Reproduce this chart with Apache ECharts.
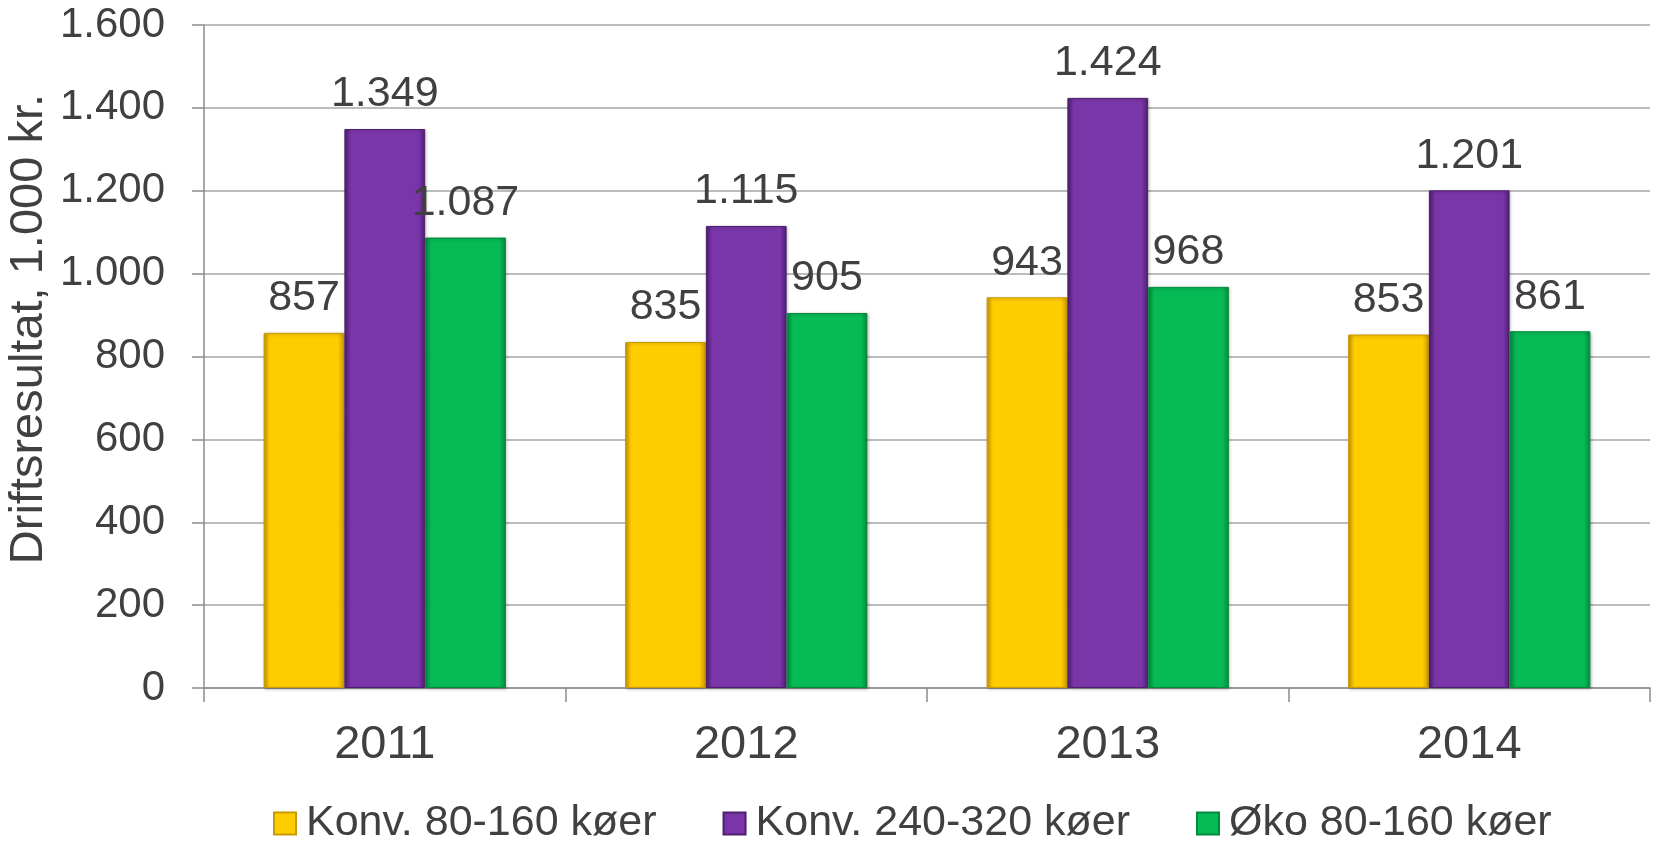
<!DOCTYPE html>
<html>
<head>
<meta charset="utf-8">
<script src="https://cdn.jsdelivr.net/npm/echarts@6/dist/echarts.min.js"></script>
<style>
  html, body { margin: 0; padding: 0; background: #fff; }
  #main { width: 1656px; height: 842px; }
</style>
</head>
<body>
<div id="main"></div>
<script>
var years = ['2011', '2012', '2013', '2014'];
var konvSmall = [857, 835, 943, 853];
var konvLarge = [1349, 1115, 1424, 1201];
var oko = [1087, 905, 968, 861];
var seriesNames = ['Konv. 80-160 køer', 'Konv. 240-320 køer', 'Øko 80-160 køer'];
var colors = ['#FFCC00', '#7A35A8', '#06BA55'];
var edgeColors = ['#C99A00', '#4E1F70', '#038A3C'];

var font = 'Liberation Sans, Arial, sans-serif';
var textColor = '#404040';

function fmt(v) {
    return String(v).replace(/\B(?=(\d{3})+(?!\d))/g, '.');
}

var dom = document.getElementById('main');
var myChart = echarts.init(dom, null, { renderer: 'canvas' });

function makeSeries(i, data) {
    return {
        name: seriesNames[i],
        type: 'bar',
        data: data,
        barGap: '0%',
        barCategoryGap: '33%',
        itemStyle: {
            color: {
                type: 'linear', x: 0, y: 0, x2: 1, y2: 0,
                colorStops: [
                    { offset: 0, color: edgeColors[i] },
                    { offset: 0.08, color: colors[i] },
                    { offset: 0.92, color: colors[i] },
                    { offset: 1, color: edgeColors[i] }
                ]
            },
            borderColor: edgeColors[i],
            borderWidth: 1,
            shadowColor: 'rgba(0,0,0,0.25)',
            shadowBlur: 3,
            shadowOffsetX: 1,
            shadowOffsetY: 1
        },
        label: {
            show: true,
            position: 'top',
            distance: 13,
            fontFamily: font,
            fontSize: 43,
            color: textColor,
            formatter: function (p) { return fmt(p.value); }
        }
    };
}

var option = {
    animation: false,
    backgroundColor: '#fff',
    grid: { left: 204, right: 6, top: 25, bottom: 154, containLabel: false },
    legend: {
        bottom: -8,
        left: 268,
        itemWidth: 22,
        itemHeight: 22,
        itemGap: 66,
        icon: 'rect',
        textStyle: { fontFamily: font, fontSize: 43, color: textColor, padding: [0, 0, 0, 5] },
        data: seriesNames
    },
    graphic: [{
        type: 'text',
        left: 6,
        top: 94,
        rotation: Math.PI / 2,
        originX: 0, originY: 0,
        style: {
            text: 'Driftsresultat, 1.000 kr.',
            fontFamily: font,
            fontSize: 47,
            fill: textColor
        }
    }],
    xAxis: {
        type: 'category',
        data: years,
        axisLine: { lineStyle: { color: '#8c8c8c', width: 1.5 } },
        axisTick: { show: true, length: 14, alignWithLabel: false, lineStyle: { color: '#8c8c8c', width: 1.5 } },
        axisLabel: { fontFamily: font, fontSize: 47, color: textColor, margin: 34 }
    },
    yAxis: {
        type: 'value',
        min: 0,
        max: 1600,
        interval: 200,
        axisLine: { show: true, lineStyle: { color: '#8c8c8c', width: 1.5 } },
        axisTick: { show: true, length: 12, lineStyle: { color: '#8c8c8c', width: 1.5 } },
        splitLine: { lineStyle: { color: '#a6a6a6', width: 1.5 } },
        axisLabel: {
            fontFamily: font, fontSize: 42, color: textColor, margin: 39,
            formatter: function (v) { return fmt(v); }
        }
    },
    series: [
        makeSeries(0, konvSmall),
        makeSeries(1, konvLarge),
        makeSeries(2, oko)
    ]
};

myChart.setOption(option);
</script>
</body>
</html>
